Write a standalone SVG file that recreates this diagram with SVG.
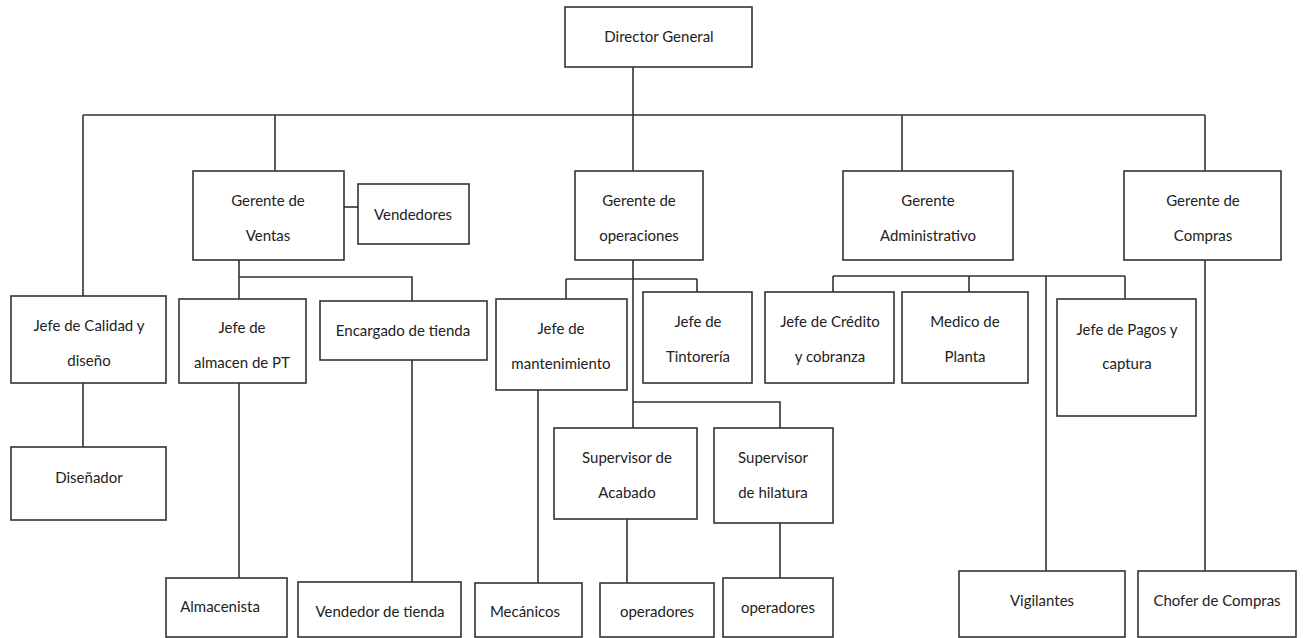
<svg xmlns="http://www.w3.org/2000/svg" width="1303" height="638" viewBox="0 0 1303 638">
<style>
.box{fill:#fff;stroke:#333;stroke-width:1.6}
.ln{fill:none;stroke:#333;stroke-width:1.6}
text{font-family:Lato,"Open Sans","Liberation Sans",sans-serif;font-size:15px;fill:#222;text-anchor:middle}
</style>
<rect width="1303" height="638" fill="#fff"/>
<g id="connectors" class="ln">
<path d="M633,67V171"/>
<path d="M83,115H1205"/>
<path d="M83,115V296"/>
<path d="M275,115V171"/>
<path d="M902,115V171"/>
<path d="M1205,115V171"/>
<path d="M344,207H358"/>
<path d="M239,260V299M239,277H412V301"/>
<path d="M83,383V447"/>
<path d="M239,383V578"/>
<path d="M412,360V582"/>
<path d="M633,260V428M566,279H697M566,279V299M697,279V292"/>
<path d="M633,402H780V428"/>
<path d="M538,390V583"/>
<path d="M627,519V583"/>
<path d="M780,523V578"/>
<path d="M833,276H1125M833,276V292M969,276V292M1046,276V571M1125,276V299"/>
<path d="M1205,260V571"/>
</g>
<g id="director"><rect class="box" x="565" y="7" width="187" height="60"/><text x="659" y="42">Director General</text></g>
<g id="ventas"><rect class="box" x="193" y="171" width="151" height="89"/><text x="268" y="206">Gerente de</text><text x="268" y="241">Ventas</text></g>
<g id="vendedores"><rect class="box" x="358" y="184" width="111" height="60"/><text x="413" y="220">Vendedores</text></g>
<g id="operaciones"><rect class="box" x="575" y="171" width="128" height="89"/><text x="639" y="206">Gerente de</text><text x="639" y="241">operaciones</text></g>
<g id="administrativo"><rect class="box" x="843" y="171" width="170" height="89"/><text x="928" y="206">Gerente</text><text x="928" y="241">Administrativo</text></g>
<g id="compras"><rect class="box" x="1124" y="171" width="157" height="89"/><text x="1203" y="206">Gerente de</text><text x="1203" y="241">Compras</text></g>
<g id="calidad"><rect class="box" x="11" y="296" width="155" height="87"/><text x="89" y="331">Jefe de Calidad y</text><text x="89" y="366">diseño</text></g>
<g id="almacen"><rect class="box" x="179" y="299" width="127" height="84"/><text x="242" y="333">Jefe de</text><text x="242" y="368">almacen de PT</text></g>
<g id="encargado"><rect class="box" x="320" y="301" width="167" height="59"/><text x="403" y="336">Encargado de tienda</text></g>
<g id="mantenimiento"><rect class="box" x="496" y="299" width="131" height="91"/><text x="561" y="334">Jefe de</text><text x="561" y="369">mantenimiento</text></g>
<g id="tintoreria"><rect class="box" x="643" y="292" width="109" height="91"/><text x="698" y="327">Jefe de</text><text x="698" y="362">Tintorería</text></g>
<g id="credito"><rect class="box" x="765" y="292" width="129" height="91"/><text x="830" y="327">Jefe de Crédito</text><text x="830" y="362">y cobranza</text></g>
<g id="medico"><rect class="box" x="902" y="292" width="126" height="91"/><text x="965" y="327">Medico de</text><text x="965" y="362">Planta</text></g>
<g id="pagos"><rect class="box" x="1057" y="299" width="139" height="117"/><text x="1127" y="335">Jefe de Pagos y</text><text x="1127" y="369">captura</text></g>
<g id="disenador"><rect class="box" x="11" y="447" width="155" height="73"/><text x="89" y="483">Diseñador</text></g>
<g id="acabado"><rect class="box" x="554" y="428" width="143" height="91"/><text x="627" y="463">Supervisor de</text><text x="627" y="498">Acabado</text></g>
<g id="hilatura"><rect class="box" x="714" y="428" width="119" height="95"/><text x="773" y="463">Supervisor</text><text x="773" y="498">de hilatura</text></g>
<g id="almacenista"><rect class="box" x="166" y="578" width="121" height="59"/><text x="220" y="612">Almacenista</text></g>
<g id="vendedor-tienda"><rect class="box" x="298" y="582" width="163" height="55"/><text x="380" y="617">Vendedor de tienda</text></g>
<g id="mecanicos"><rect class="box" x="475" y="583" width="107" height="54"/><text x="525" y="617">Mecánicos</text></g>
<g id="operadores-acabado"><rect class="box" x="600" y="583" width="114" height="54"/><text x="657" y="617">operadores</text></g>
<g id="operadores-hilatura"><rect class="box" x="723" y="578" width="110" height="59"/><text x="778" y="613">operadores</text></g>
<g id="vigilantes"><rect class="box" x="959" y="571" width="166" height="66"/><text x="1042" y="606">Vigilantes</text></g>
<g id="chofer"><rect class="box" x="1138" y="571" width="158" height="66"/><text x="1217" y="606">Chofer de Compras</text></g>
</svg>
